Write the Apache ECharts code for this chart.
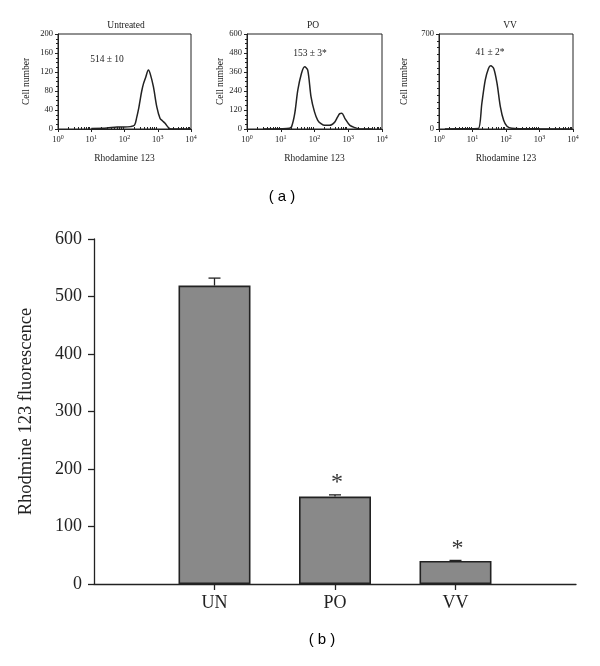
<!DOCTYPE html>
<html><head><meta charset="utf-8">
<script src="https://cdn.jsdelivr.net/npm/echarts@6/dist/echarts.min.js"></script>
<style>html,body{margin:0;padding:0;background:#fff}#c{width:600px;height:666px}</style>
</head><body><div id="c"></div>
<script>
// ---- Panel (a): flow cytometry histograms ----
const panelTitles = ['Untreated', 'PO', 'VV'];
const panelNotes = ['514 ± 10', '153 ± 3*', '41 ± 2*'];
const panelYMax = [200, 600, 700];
const panelYInterval = [40, 120, 700];
const panelYMinorSplit = [4, 4, 14];

const untreatedX = [10, 30, 60, 100, 150, 200, 234, 270, 295, 330, 371, 430, 525, 600, 740, 940, 1175, 1400, 1660, 2090, 2500, 5000, 10000];
const untreatedY = [1, 2, 4, 4, 5, 8, 25, 45, 61, 80, 95, 108, 124, 115, 89, 46, 22, 17, 12, 3, 0, 0, 0];

const poX = [3, 10, 18, 21, 26, 32, 41, 51, 63, 79, 100, 125, 160, 200, 275, 340, 400, 480, 560, 650, 800, 1120, 1600, 2200, 5000];
const poY = [0, 2, 5, 15, 98, 245, 351, 393, 372, 203, 108, 55, 32, 23, 23, 30, 44, 75, 97, 100, 66, 23, 8, 0, 0];

const vvX = [1.5, 10, 15, 19, 24, 30, 35, 43, 54, 68, 85, 107, 150, 300, 1000, 8000];
const vvY = [0, 2, 3, 188, 360, 446, 466, 446, 336, 163, 64, 20, 5, 2, 1, 0];

// ---- Panel (b): bar chart ----
const barCategories = ['UN', 'PO', 'VV'];
const barValues = [519, 152, 40];
const barErrors = [13, 3, 1];
const barSignificant = [false, true, true];

const SERIF = '"Liberation Serif", "DejaVu Serif", serif';
const SANS = '"Liberation Sans", "DejaVu Sans", sans-serif';
const INK = '#222';

const histX = [untreatedX, poX, vvX];
const histY = [untreatedY, poY, vvY];

const panelGrids = [
  { left: 58, top: 34, width: 133, height: 95 },
  { left: 247, top: 34, width: 135, height: 95 },
  { left: 439, top: 34, width: 134, height: 95 }
];
const nameGaps = [27, 22, 30];

const grids = panelGrids.map(g => Object.assign({ show: true, borderColor: INK, borderWidth: 1, backgroundColor: 'transparent' }, g));
grids.push({ left: 94, top: 239, width: 482, height: 345 });

// minor tick positions (log10 of 2..9 x 10^n)
const minorLogPositions = [];
for (let e = 0; e < 4; e++) for (let k = 2; k <= 9; k++) minorLogPositions.push(Math.log10(k * Math.pow(10, e)));

const xAxes = [], yAxes = [], series = [];
for (let i = 0; i < 3; i++) {
  xAxes.push({
    type: 'log', logBase: 10, min: 1, max: 10000, gridIndex: i, position: 'bottom',
    name: 'Rhodamine 123', nameLocation: 'middle', nameGap: 24,
    nameTextStyle: { fontFamily: SERIF, fontSize: 9.5, color: INK },
    axisLine: { lineStyle: { color: INK, width: 1 } },
    axisTick: { length: 3, lineStyle: { color: INK } },
    splitLine: { show: false },
    axisLabel: {
      margin: 5, color: INK, fontFamily: SERIF,
      formatter: v => '{b|10}{s|' + Math.round(Math.log10(v)) + '}',
      rich: {
        b: { fontSize: 8.5, fontFamily: SERIF, color: INK, lineHeight: 11 },
        s: { fontSize: 6, fontFamily: SERIF, color: INK, verticalAlign: 'top', lineHeight: 7 }
      }
    }
  });
}
for (let i = 0; i < 3; i++) {
  xAxes.push({
    type: 'value', min: 0, max: 4, gridIndex: i, position: 'bottom',
    axisLine: { show: false }, axisLabel: { show: false }, splitLine: { show: false },
    axisTick: { show: true, inside: true, length: 2, customValues: minorLogPositions, lineStyle: { color: INK } }
  });
}
xAxes.push({
  type: 'category', gridIndex: 3, boundaryGap: false,
  data: [''].concat(barCategories, [' ']),
  axisLine: { lineStyle: { color: INK, width: 1.3 } },
  axisTick: { length: 6, interval: (idx) => idx >= 1 && idx <= barCategories.length, lineStyle: { color: INK, width: 1.3 } },
  axisLabel: { margin: 10, fontFamily: SERIF, fontSize: 18, color: INK, interval: 0 },
  splitLine: { show: false }
});

for (let i = 0; i < 3; i++) {
  yAxes.push({
    type: 'value', gridIndex: i, min: 0, max: panelYMax[i], interval: panelYInterval[i],
    name: 'Cell number', nameLocation: 'middle', nameGap: nameGaps[i], nameRotate: 90,
    nameTextStyle: { fontFamily: SERIF, fontSize: 9.5, color: INK },
    axisLine: { show: true, lineStyle: { color: INK, width: 1 } },
    axisTick: { show: true, length: 3, lineStyle: { color: INK } },
    minorTick: { show: true, splitNumber: panelYMinorSplit[i], length: 2, lineStyle: { color: INK } },
    splitLine: { show: false },
    axisLabel: { margin: 5, fontFamily: SERIF, fontSize: 8.5, color: INK }
  });
  series.push({
    type: 'line', xAxisIndex: i, yAxisIndex: i,
    data: histX[i].map((x, j) => [x, histY[i][j]]),
    showSymbol: false, smooth: 0.3,
    lineStyle: { color: INK, width: 1.5 },
    silent: true, animation: false
  });
}
yAxes.push({
  type: 'value', gridIndex: 3, min: 0, max: 600, interval: 100,
  name: 'Rhodmine 123 fluorescence', nameLocation: 'middle', nameGap: 58, nameRotate: 90,
  nameTextStyle: { fontFamily: SERIF, fontSize: 18.5, color: INK },
  axisLine: { show: true, lineStyle: { color: INK, width: 1.3 } },
  axisTick: { show: true, length: 6, lineStyle: { color: INK, width: 1.3 } },
  splitLine: { show: false },
  axisLabel: { margin: 12, fontFamily: SERIF, fontSize: 18, color: INK }
});

series.push({
  type: 'bar', xAxisIndex: 6, yAxisIndex: 3,
  data: barCategories.map((c, i) => [c, barValues[i]]),
  barWidth: 72,
  itemStyle: { color: '#898989', borderColor: INK, borderWidth: 1.6 },
  animation: false, silent: true
});
series.push({
  type: 'custom', xAxisIndex: 6, yAxisIndex: 3,
  data: barCategories.map((c, i) => [c, barValues[i], barErrors[i], barSignificant[i] ? 1 : 0]),
  encode: { x: 0, y: 1 },
  renderItem: (params, api) => {
    const idx = api.value(0);
    const top = api.coord([idx, api.value(1)]);
    const et = api.coord([idx, api.value(1) + api.value(2)]);
    const children = [
      { type: 'line', shape: { x1: top[0], y1: top[1], x2: et[0], y2: et[1] }, style: { stroke: INK, lineWidth: 1.3 } },
      { type: 'line', shape: { x1: et[0] - 6, y1: et[1], x2: et[0] + 6, y2: et[1] }, style: { stroke: INK, lineWidth: 1.3 } }
    ];
    if (api.value(3)) {
      children.push({ type: 'text', x: et[0] + 2, y: et[1] - 12,
        style: { text: '*', fontFamily: SERIF, fontSize: 24, fill: '#333', align: 'center', verticalAlign: 'middle' } });
    }
    return { type: 'group', children };
  },
  animation: false, silent: true, z: 5
});

const notePos = [[107, 59], [310, 53], [490, 52]];
const titlePos = [[126, 25], [313, 25], [510, 25]];
const graphics = [];
for (let i = 0; i < 3; i++) {
  graphics.push({ type: 'text', x: titlePos[i][0], y: titlePos[i][1],
    style: { text: panelTitles[i], fontFamily: SERIF, fontSize: 9.5, fill: INK, align: 'center', verticalAlign: 'middle' } });
  graphics.push({ type: 'text', x: notePos[i][0], y: notePos[i][1],
    style: { text: panelNotes[i], fontFamily: SERIF, fontSize: 9.5, fill: INK, align: 'center', verticalAlign: 'middle' } });
}
graphics.push({ type: 'text', x: 282, y: 197, style: { text: '( a )', fontFamily: SANS, fontSize: 15, fill: '#000', align: 'center', verticalAlign: 'middle' } });
graphics.push({ type: 'text', x: 322, y: 640, style: { text: '( b )', fontFamily: SANS, fontSize: 15, fill: '#000', align: 'center', verticalAlign: 'middle' } });

const chart = echarts.init(document.getElementById('c'), null, { renderer: 'canvas' });
chart.setOption({
  backgroundColor: '#fff',
  animation: false,
  grid: grids,
  xAxis: xAxes,
  yAxis: yAxes,
  series: series,
  graphic: graphics
});
</script></body></html>
